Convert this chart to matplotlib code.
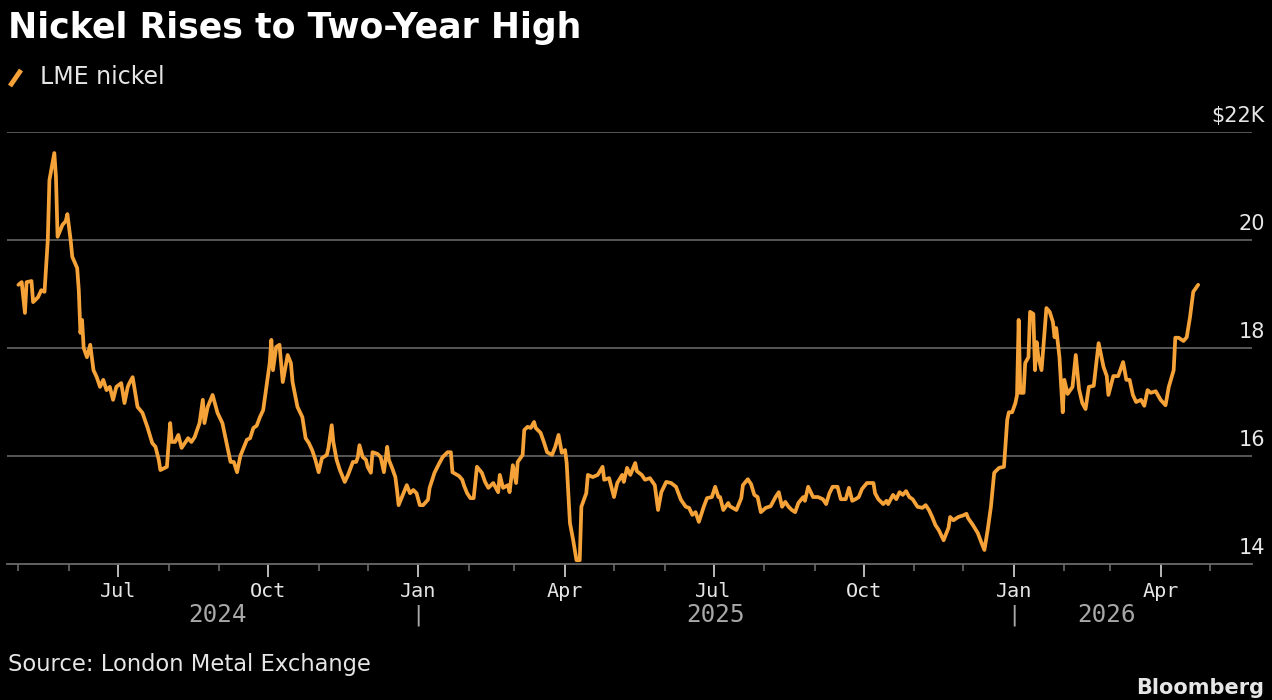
import matplotlib
matplotlib.use("Agg")
import matplotlib.pyplot as plt
import matplotlib.dates as mdates
import numpy as np
import pandas as pd

title = "Nickel Rises to Two-Year High"
series_name = "LME nickel"
source = "Source: London Metal Exchange"
brand = "Bloomberg"

days_2024 = ["05-01", "05-03", "05-05", "05-06", "05-09", "05-10", "05-13", "05-15", "05-17", "05-19",
             "05-20", "05-23", "05-24", "05-25", "05-28", "05-30", "05-31", "06-02", "06-03", "06-06",
             "06-07", "06-08", "06-09", "06-10", "06-12", "06-14", "06-16", "06-18", "06-20", "06-22",
             "06-24", "06-26", "06-28", "06-30", "07-03", "07-05", "07-07", "07-08", "07-10", "07-13",
             "07-16", "07-19", "07-22", "07-24", "07-26", "07-27", "07-31", "08-02", "08-03", "08-05",
             "08-07", "08-09", "08-11", "08-13", "08-15", "08-17", "08-20", "08-22", "08-23", "08-25",
             "08-28", "08-31", "09-03", "09-08", "09-10", "09-12", "09-14", "09-16", "09-18", "09-20",
             "09-22", "09-24", "09-26", "09-28", "09-30", "10-02", "10-03", "10-04", "10-06", "10-08",
             "10-10", "10-13", "10-15", "10-16", "10-19", "10-22", "10-24", "10-26", "10-28", "10-30",
             "11-01", "11-03", "11-06", "11-07", "11-09", "11-10", "11-12", "11-14", "11-17", "11-19",
             "11-22", "11-24", "11-25", "11-26", "11-28", "11-30", "12-01", "12-03", "12-04", "12-07",
             "12-09", "12-11", "12-13", "12-14", "12-16", "12-18", "12-19", "12-20", "12-23", "12-25",
             "12-27", "12-29", "12-31"]
prices_2024 = [19.17, 19.22, 18.65, 19.22, 19.24, 18.85, 18.94, 19.07, 19.04, 20.0,
               21.11, 21.61, 21.17, 20.06, 20.28, 20.35, 20.48, 20.0, 19.69, 19.48,
               19.07, 18.28, 18.52, 18.0, 17.83, 18.06, 17.59, 17.46, 17.28, 17.41,
               17.22, 17.28, 17.04, 17.28, 17.35, 16.98, 17.28, 17.35, 17.46, 16.91,
               16.8, 16.54, 16.24, 16.17, 15.93, 15.74, 15.8, 16.61, 16.26, 16.26,
               16.39, 16.15, 16.24, 16.33, 16.26, 16.35, 16.61, 17.04, 16.61, 16.91,
               17.13, 16.8, 16.61, 15.89, 15.89, 15.7, 16.0, 16.15, 16.3, 16.33,
               16.52, 16.56, 16.72, 16.85, 17.28, 17.72, 18.15, 17.59, 18.02, 18.06,
               17.37, 17.87, 17.72, 17.37, 16.91, 16.72, 16.33, 16.24, 16.11, 15.93,
               15.7, 15.96, 16.02, 16.15, 16.57, 16.26, 15.93, 15.74, 15.52, 15.65,
               15.89, 15.89, 15.98, 16.2, 15.98, 15.93, 15.8, 15.69, 16.07, 16.04,
               15.98, 15.7, 16.17, 15.93, 15.78, 15.61, 15.37, 15.09, 15.31, 15.46,
               15.31, 15.37, 15.31]

days_2025 = ["01-02", "01-04", "01-07", "01-08", "01-11", "01-14", "01-16", "01-19", "01-21", "01-22",
             "01-26", "01-28", "01-29", "01-31", "02-02", "02-04", "02-06", "02-09", "02-11", "02-13",
             "02-16", "02-19", "02-20", "02-22", "02-25", "02-26", "02-28", "03-02", "03-03", "03-06",
             "03-07", "03-09", "03-11", "03-13", "03-14", "03-17", "03-19", "03-21", "03-24", "03-26",
             "03-28", "03-30", "04-01", "04-02", "04-04", "04-06", "04-08", "04-10", "04-11", "04-14",
             "04-15", "04-18", "04-21", "04-24", "04-25", "04-28", "05-01", "05-03", "05-06", "05-07",
             "05-09", "05-11", "05-14", "05-15", "05-18", "05-20", "05-23", "05-26", "05-28", "05-30",
             "06-02", "06-05", "06-08", "06-11", "06-14", "06-16", "06-18", "06-20", "06-22", "06-25",
             "06-27", "06-30", "07-02", "07-04", "07-05", "07-07", "07-10", "07-11", "07-15", "07-18",
             "07-19", "07-22", "07-24", "07-26", "07-28", "07-30", "08-02", "08-05", "08-08", "08-10",
             "08-12", "08-14", "08-16", "08-18", "08-20", "08-22", "08-25", "08-26", "08-28", "08-31",
             "09-03", "09-06", "09-08", "09-10", "09-12", "09-15", "09-17", "09-20", "09-22", "09-24",
             "09-26", "09-28", "09-30", "10-03", "10-07", "10-08", "10-10", "10-13", "10-15", "10-16",
             "10-19", "10-21", "10-23", "10-25", "10-27", "10-29", "10-31", "11-03", "11-06", "11-08",
             "11-10", "11-12", "11-14", "11-16", "11-19", "11-22", "11-23", "11-25", "11-28", "12-01",
             "12-03", "12-04", "12-07", "12-10", "12-12", "12-14", "12-16", "12-18", "12-20", "12-23",
             "12-26", "12-28", "12-29", "12-31"]
prices_2025 = [15.09, 15.09, 15.19, 15.41, 15.69, 15.87, 15.98, 16.07, 16.07, 15.7,
               15.63, 15.56, 15.46, 15.31, 15.22, 15.22, 15.8, 15.69, 15.52, 15.41,
               15.5, 15.33, 15.65, 15.41, 15.46, 15.33, 15.83, 15.5, 15.89, 16.02,
               16.48, 16.54, 16.52, 16.63, 16.52, 16.43, 16.26, 16.07, 16.02, 16.17,
               16.39, 16.06, 16.11, 15.87, 14.76, 14.44, 14.07, 14.07, 15.06, 15.31,
               15.65, 15.61, 15.65, 15.8, 15.56, 15.59, 15.24, 15.5, 15.65, 15.52,
               15.78, 15.65, 15.87, 15.72, 15.65, 15.56, 15.59, 15.46, 15.0, 15.33,
               15.52, 15.5, 15.43, 15.19, 15.06, 15.04, 14.91, 14.96, 14.78, 15.06,
               15.22, 15.24, 15.43, 15.24, 15.24, 15.0, 15.13, 15.07, 15.0, 15.22,
               15.46, 15.57, 15.48, 15.28, 15.24, 14.96, 15.04, 15.07, 15.24, 15.33,
               15.06, 15.15, 15.06, 15.0, 14.96, 15.13, 15.24, 15.17, 15.43, 15.24,
               15.24, 15.2, 15.11, 15.31, 15.43, 15.43, 15.2, 15.2, 15.41, 15.17,
               15.2, 15.24, 15.39, 15.5, 15.5, 15.31, 15.2, 15.11, 15.17, 15.11,
               15.28, 15.2, 15.33, 15.28, 15.35, 15.24, 15.2, 15.06, 15.04, 15.09,
               15.0, 14.87, 14.72, 14.63, 14.44, 14.67, 14.87, 14.81, 14.87, 14.9,
               14.93, 14.85, 14.72, 14.57, 14.41, 14.26, 14.63, 15.06, 15.69, 15.78,
               15.8, 16.67, 16.81, 16.81]

days_2026 = ["01-02", "01-03", "01-04", "01-05", "01-07", "01-08", "01-10", "01-11", "01-13", "01-14",
             "01-15", "01-16", "01-18", "01-19", "01-21", "01-23", "01-25", "01-26", "01-27", "01-29",
             "01-31", "02-01", "02-03", "02-06", "02-08", "02-10", "02-12", "02-14", "02-16", "02-19",
             "02-22", "02-25", "02-27", "02-28", "03-03", "03-06", "03-09", "03-11", "03-13", "03-15",
             "03-17", "03-20", "03-22", "03-24", "03-26", "03-29", "04-01", "04-04", "04-06", "04-09",
             "04-10", "04-12", "04-15", "04-17", "04-19", "04-21", "04-24"]
prices_2026 = [16.98, 17.13, 18.52, 17.17, 17.17, 17.72, 17.83, 18.67, 18.63, 17.59,
               18.11, 17.85, 17.59, 17.96, 18.74, 18.67, 18.48, 18.2, 18.37, 17.83,
               16.81, 17.41, 17.15, 17.28, 17.87, 17.24, 16.98, 16.87, 17.28, 17.3,
               18.09, 17.65, 17.48, 17.13, 17.48, 17.48, 17.74, 17.41, 17.41, 17.13,
               17.0, 17.04, 16.93, 17.22, 17.17, 17.2, 17.04, 16.94, 17.28, 17.59,
               18.19, 18.19, 18.13, 18.2, 18.57, 19.04, 19.17]

y_ticks = [14, 16, 18, 20, 22]
y_labels = ["14", "16", "18", "20", "\\$22K"]
x_range = ["2024-04-24", "2026-05-27"]

dates = pd.to_datetime(["2024-" + d for d in days_2024] + ["2025-" + d for d in days_2025]
                       + ["2026-" + d for d in days_2026])
prices = np.array(prices_2024 + prices_2025 + prices_2026)

W, H = 1272, 700
fig = plt.figure(figsize=(W / 100, H / 100), dpi=100, facecolor="black")
ax = fig.add_axes([7 / W, 136 / H, 1245 / W, 432 / H])
ax.set_facecolor("black")

ax.plot(dates, prices, color="#f5a238", lw=2.7, solid_joinstyle="round",
        solid_capstyle="round", zorder=3)
ax.set_ylim(14, 22)
ax.set_xlim(pd.Timestamp(x_range[0]), pd.Timestamp(x_range[1]))

for v in y_ticks[1:]:
    ax.axhline(v, color="#5e5e5e", lw=1.3, zorder=1)
for s in ["top", "left", "right"]:
    ax.spines[s].set_visible(False)
ax.spines["bottom"].set_color("#6a6a6a")
ax.spines["bottom"].set_linewidth(1.3)
ax.set_yticks([])

for v, lab in zip(y_ticks, y_labels):
    ax.annotate(lab, xy=(1.0104, v), xycoords=("axes fraction", "data"),
                xytext=(0, 6), textcoords="offset pixels", ha="right", va="bottom",
                color="#e6e6e6", fontsize=15, family="DejaVu Sans")

ax.xaxis.set_major_locator(mdates.MonthLocator(bymonth=[1, 4, 7, 10]))
ax.xaxis.set_major_formatter(mdates.DateFormatter("%b"))
ax.xaxis.set_minor_locator(mdates.MonthLocator())
ax.tick_params(axis="x", which="major", length=9, width=1.3, color="#c8c8c8",
               labelcolor="#e6e6e6", labelsize=14.5, pad=4, direction="out")
ax.tick_params(axis="x", which="minor", length=5, width=1.2, color="#6a6a6a", direction="out")
for lbl in ax.get_xticklabels():
    lbl.set_family("DejaVu Sans Mono")

# year labels centred on each year's data span
years = dates.year
for yr in sorted(set(years)):
    sel = dates[years == yr]
    mid = sel.min() + (sel.max() - sel.min()) / 2
    ax.annotate(str(yr), xy=(mid, 0), xycoords=("data", "axes fraction"),
                xytext=(0, -51), textcoords="offset pixels", ha="center", va="center",
                color="#a8a8a8", fontsize=17.5, family="DejaVu Sans Mono")
for yr in sorted(set(years))[1:]:
    ax.annotate("|", xy=(pd.Timestamp(f"{yr}-01-01"), 0), xycoords=("data", "axes fraction"),
                xytext=(0, -51), textcoords="offset pixels", ha="center", va="center",
                color="#a8a8a8", fontsize=16, family="DejaVu Sans Mono")

fig.text(8 / W, 1 - 28 / H, title, color="white", fontsize=25, fontweight="bold",
         ha="left", va="center", family="DejaVu Sans")
fig.add_artist(plt.Line2D([10 / W, 21 / W], [1 - 86 / H, 1 - 70 / H], color="#f5a238",
                          lw=3.5, solid_capstyle="butt"))
fig.text(40 / W, 1 - 77 / H, series_name, color="#e6e6e6", fontsize=17,
         ha="left", va="center", family="DejaVu Sans")
fig.text(8 / W, 1 - 665 / H, source, color="#e6e6e6", fontsize=16.3,
         ha="left", va="center", family="DejaVu Sans")
fig.text(1136 / W, 1 - 688 / H, brand, color="#e6e6e6", fontsize=15, fontweight="bold",
         ha="left", va="center", family="DejaVu Sans")

fig.savefig("out.png", dpi=100, facecolor="black")
